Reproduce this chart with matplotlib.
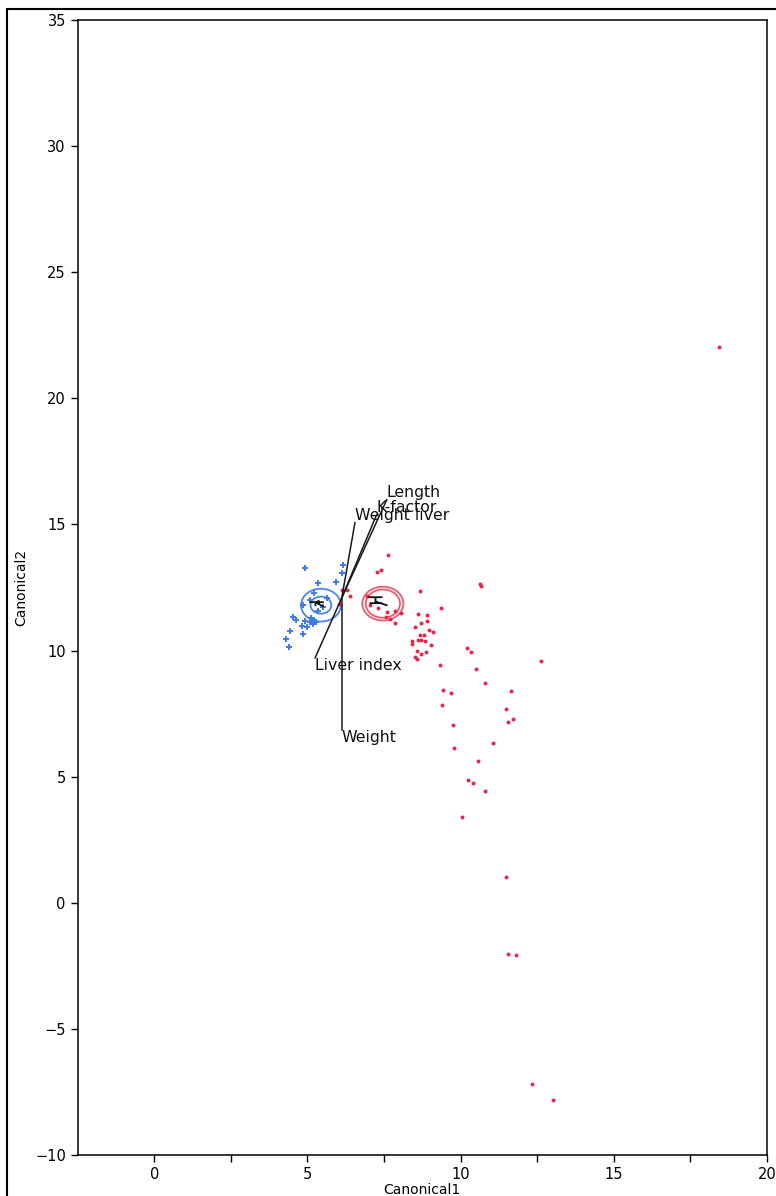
import matplotlib.pyplot as plt
from matplotlib.path import Path
from matplotlib.markers import MarkerStyle
from matplotlib.patches import Circle, Rectangle

# canonical scores, group 1 (red dots)
red_x = [18.42, 7.64, 7.28, 7.40, 6.12, 6.28, 6.39, 6.04, 6.94, 7.04, 7.29, 7.59,
         7.86, 8.04, 7.57, 7.69, 7.87, 8.68, 10.63, 10.65, 9.36, 8.62, 8.91, 8.91,
         8.70, 8.52, 8.98, 9.10, 8.68, 8.79, 8.60, 8.72, 8.84, 8.40, 8.40, 9.04,
         8.58, 8.72, 8.87, 8.51, 8.56, 10.22, 10.33, 9.34, 10.49, 12.63, 10.78,
         9.43, 9.69, 11.66, 9.38, 11.49, 11.55, 11.72, 9.74, 11.05, 9.78, 10.56,
         10.23, 10.40, 10.78, 10.03, 11.48, 11.54, 11.80, 12.32, 13.01]
red_y = [22.02, 13.80, 13.13, 13.19, 12.41, 12.41, 12.15, 11.85, 12.15, 11.79, 11.69, 11.54,
         11.55, 11.49, 11.33, 11.25, 11.09, 12.37, 12.64, 12.55, 11.69, 11.45, 11.39, 11.19,
         11.11, 10.94, 10.80, 10.73, 10.60, 10.60, 10.42, 10.43, 10.38, 10.38, 10.26, 10.20,
         10.00, 9.88, 9.94, 9.74, 9.67, 10.10, 9.94, 9.43, 9.27, 9.57, 8.71,
         8.43, 8.31, 8.40, 7.85, 7.68, 7.16, 7.28, 7.06, 6.34, 6.14, 5.64,
         4.87, 4.74, 4.42, 3.39, 1.02, -2.03, -2.07, -7.19, -7.83]

# group 2 (blue crosses)
blue_x = [4.92, 6.17, 6.12, 5.36, 5.92, 5.23, 5.64, 5.09, 4.87, 5.50, 5.35, 5.12, 5.22,
          5.28, 5.09, 5.18, 4.54, 4.61, 4.91, 4.98, 4.81, 4.43, 4.85, 4.31, 4.39]
blue_y = [13.27, 13.40, 13.08, 12.69, 12.71, 12.28, 12.10, 12.02, 11.82, 11.72, 11.58, 11.30, 11.22,
          11.14, 11.12, 11.06, 11.33, 11.22, 11.18, 10.94, 10.98, 10.79, 10.65, 10.47, 10.15]

# group means and circle radii (inner, outer)
mean_x = [7.46, 5.44]
mean_y = [11.86, 11.80]
radii = [(0.56, 0.67), (0.34, 0.65)]

# biplot rays
ray_origin = (6.12, 12.09)
ray_names = ['Length', 'K-factor', 'Weight liver', 'Liver index', 'Weight']
ray_x = [7.59, 7.26, 6.55, 5.25, 6.12]
ray_y = [15.98, 15.39, 15.07, 9.71, 6.86]

red = '#e8264a'
red_ring = '#ee5a6e'
blue = '#3d7be3'
blue_ring = '#4a86e8'

fig = plt.figure(figsize=(7.76, 11.96), dpi=100)
ax = fig.add_axes([0.1001, 0.0343, 0.8883, 0.949])

ax.scatter(red_x, red_y, s=8, color=red, marker='o', linewidths=0, zorder=3)
ax.scatter(blue_x, blue_y, s=20, color=blue, marker='+', linewidths=1.4, zorder=3)

for (cx, cy), (r1, r2), col in zip(zip(mean_x, mean_y), radii, [red_ring, blue_ring]):
    for r in (r1, r2):
        ax.add_patch(Circle((cx, cy), r, fill=False, edgecolor=col, lw=1.3, zorder=2))

# little black mean glyphs, drawn up-left of the circle centre like JMP does
M, L = Path.MOVETO, Path.LINETO
red_glyph = Path([(-15, 7.3), (-1, 7.3), (-8, 7.3), (-8, 1.3), (-14, 1.3), (-2, 1.3), (-8, 3), (4, -1)],
                 [M, L, M, L, M, L, M, L])
blue_glyph = Path([(-12, 3.3), (2.3, 3.3), (-6, 3.3), (-6, -0.7), (-6, 3.3), (2.3, -1.3), (-3, 5.5), (-3, 1)],
                  [M, L, M, L, M, L, M, L])
for gx, gy, g, ms in zip(mean_x, mean_y, [red_glyph, blue_glyph], [21.6, 17.3]):
    ax.plot(gx, gy, marker=MarkerStyle(g), markersize=ms, markerfacecolor='none',
            markeredgecolor='#111111', markeredgewidth=1.3, zorder=4)

for name, ex, ey in zip(ray_names, ray_x, ray_y):
    ax.plot([ray_origin[0], ex], [ray_origin[1], ey], color='#1a1a1a', lw=1.1, zorder=4)
    va = 'bottom' if ey > ray_origin[1] else 'top'
    ax.text(ex, ey, name, ha='left', va=va, fontsize=11.3, color='#111111', zorder=5)

ax.set_xlim(-2.5, 20)
ax.set_ylim(-10, 35)
ax.set_xticks([0, 5, 10, 15, 20])
ax.set_xticks([2.5, 7.5, 12.5, 17.5], minor=True)
ax.set_yticks(range(-10, 36, 5))
ax.tick_params(axis='both', which='both', direction='out', length=5, width=1, labelsize=10.5)
for s in ax.spines.values():
    s.set_linewidth(1.1)
ax.set_xlabel('Canonical1', fontsize=10, labelpad=1)
ax.set_ylabel('Canonical2', fontsize=10, labelpad=5)

# outer frame of the report panel
fig.patches.append(Rectangle((7 / 776, -0.02), 1.05, 1 - 9 / 1196 + 0.02, transform=fig.transFigure,
                             fill=False, edgecolor='black', lw=1.5))

fig.savefig('out.png', dpi=100)
